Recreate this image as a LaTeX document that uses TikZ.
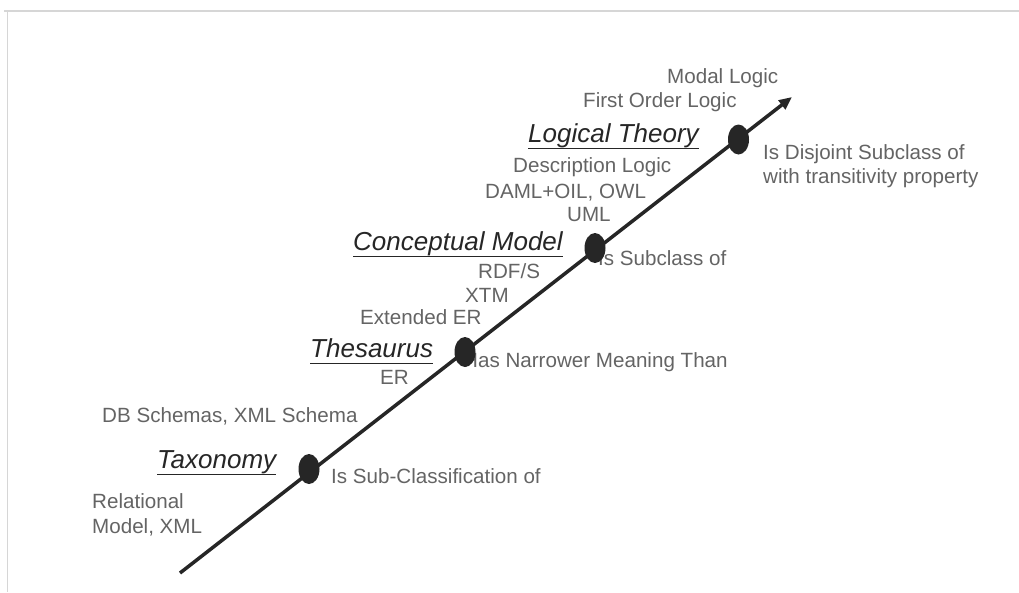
\documentclass[tikz,border=0pt]{standalone}
\usepackage{fontspec}
\setmainfont{Liberation Sans}
\usetikzlibrary{arrows.meta,shapes.geometric}
\definecolor{labelgray}{RGB}{100,100,100}
\definecolor{inkdark}{RGB}{38,38,38}
\definecolor{framegray}{RGB}{214,214,214}
% underlined heading text with a rule of its own thickness
\newcommand{\ultext}[1]{\setbox0\hbox{#1}\leavevmode\rlap{\textcolor{inkdark}{\rule[-7pt]{\wd0}{1.5pt}}}\box0}
\begin{document}
\begin{tikzpicture}[x=1pt,y=-1pt,
  item/.style={anchor=base west,inner sep=0pt,text=labelgray,font=\fontsize{20.6}{24}\selectfont},
  level/.style={anchor=base west,inner sep=0pt,text=inkdark,font=\fontsize{26}{30}\selectfont\itshape},
  stage/.style={ellipse,fill=inkdark,minimum width=21pt,minimum height=30pt,inner sep=0pt},
  axis/.style={line width=3.5pt,draw=inkdark,-{Triangle[length=13pt,width=11pt]}}]
\useasboundingbox (0,0) rectangle (1019,592);
% frame edges
\draw[framegray,line width=1.2pt] (4,11) -- (1019,11) (7.5,11) -- (7.5,592);

% the axis
\coordinate (base) at (180,573);
\coordinate (tip) at (792,97);
\draw[axis] (base) -- (tip);

% Logical Theory
\node[item] (modal) at (667,83) {Modal Logic};
\node[item] (fol) at (583,107) {First Order Logic};
\node[level] (lthead) at (528,142) {\ultext{Logical Theory}};
\node[item] (dl) at (513,172) {Description Logic};
\node[item] (daml) at (485,198) {DAML+OIL, OWL};
\node[item] (uml) at (567,221) {UML};
\node[item] (ltrel1) at (763,159) {Is Disjoint Subclass of};
\node[item] (ltrel2) at (763,183) {with transitivity property};

% Conceptual Model
\node[level] (cmhead) at (353,250) {\ultext{Conceptual Model}};
\node[item] (cmrel) at (598,265) {Is Subclass of};
\node[item] (rdfs) at (478,278) {RDF/S};
\node[item] (xtm) at (465,302) {XTM};
\node[item] (eer) at (360,324) {Extended ER};

% Thesaurus
\node[level] (thhead) at (310,357) {\ultext{Thesaurus}};
\node[item] (threl) at (463,367) {Has Narrower Meaning Than};
\node[item] (er) at (380,384) {ER};
\node[item] (db) at (102,422) {DB Schemas, XML Schema};

% Taxonomy
\node[level] (txhead) at (157,468) {\ultext{Taxonomy}};
\node[item] (txrel) at (331,483) {Is Sub-Classification of};
\node[item] (rel1) at (92,508) {Relational};
\node[item] (rel2) at (92,533) {Model, XML};

% stages on the axis
\node[stage] (tx) at (309,469) {};
\node[stage] (th) at (465,352) {};
\node[stage] (cm) at (595,248) {};
\node[stage] (lt) at (738.5,139.5) {};
\end{tikzpicture}
\end{document}
